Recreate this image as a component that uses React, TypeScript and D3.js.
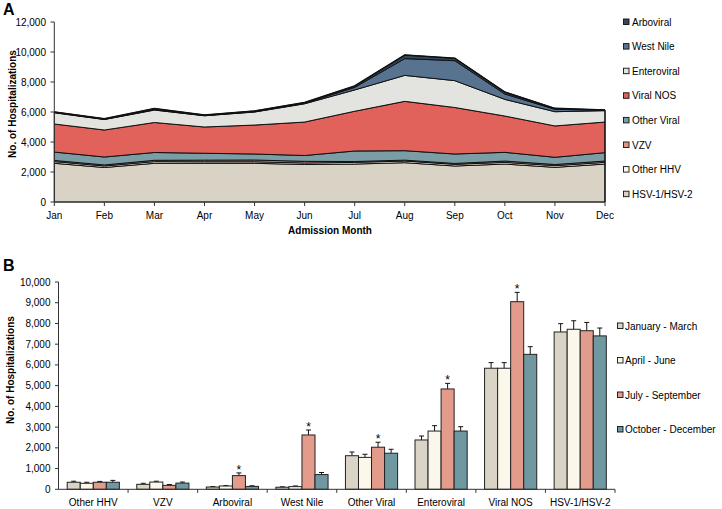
import React from "react";
import * as d3 from "d3";

const months = ["Jan", "Feb", "Mar", "Apr", "May", "Jun", "Jul", "Aug", "Sep", "Oct", "Nov", "Dec"];
const seriesNames = ["HSV-1/HSV-2", "Other HHV", "VZV", "Other Viral", "Viral NOS", "Enteroviral", "West Nile", "Arboviral"];
const seriesColors = ["#d8d3c4", "#fcf9ee", "#e09787", "#7b9ea6", "#e0625b", "#e3e3df", "#587390", "#33485b"];

const hsv = [2580, 2300, 2580, 2580, 2580, 2500, 2530, 2620, 2400, 2530, 2310, 2530];
const otherHHV = [110, 100, 110, 100, 100, 100, 110, 110, 110, 110, 110, 110];
const vzv = [80, 70, 90, 110, 120, 110, 60, 60, 60, 90, 80, 90];
const otherViral = [560, 530, 520, 460, 400, 390, 700, 630, 630, 580, 480, 560];
const viralNOS = [1870, 1800, 2000, 1750, 1930, 2230, 2650, 3290, 3100, 2420, 2090, 2040];
const enteroviral = [750, 700, 830, 750, 870, 1220, 1420, 1730, 1790, 1110, 950, 760];
const westNile = [30, 25, 40, 20, 30, 40, 170, 1120, 1330, 360, 160, 30];
const arboviral = [25, 20, 60, 25, 40, 40, 90, 240, 160, 130, 60, 10];
const topTicks = [0, 2000, 4000, 6000, 8000, 10000, 12000];

const categories = ["Other HHV", "VZV", "Arboviral", "West Nile", "Other Viral", "Enteroviral", "Viral NOS", "HSV-1/HSV-2"];
const quarters = ["January - March", "April - June", "July - September", "October - December"];
const quarterColors = ["#d9d4c5", "#fbf7ea", "#e39b8b", "#6f98a0"];
const q1 = [340, 240, 110, 100, 1620, 2380, 5840, 7590];
const q1Err = [50, 50, 20, 20, 180, 190, 270, 400];
const q2 = [290, 350, 160, 130, 1540, 2810, 5840, 7720];
const q2Err = [50, 40, 20, 30, 150, 260, 270, 410];
const q3 = [340, 190, 660, 2620, 2030, 4840, 9050, 7650];
const q3Err = [40, 40, 130, 240, 240, 270, 450, 400];
const q4 = [340, 300, 140, 710, 1740, 2810, 6510, 7400];
const q4Err = [90, 50, 30, 100, 190, 210, 370, 380];
const significant = [false, false, true, true, true, true, true, false];
const bottomTicks = [0, 1000, 2000, 3000, 4000, 5000, 6000, 7000, 8000, 9000, 10000];

const FONT = "'Liberation Sans', Arial, Helvetica, sans-serif";
const fmt = d3.format(",");

export default function App() {
  // ---------- Panel A ----------
  const seriesData = [hsv, otherHHV, vzv, otherViral, viralNOS, enteroviral, westNile, arboviral];
  const table = months.map((m, i) => {
    const row: any = { month: m };
    seriesNames.forEach((s, k) => (row[s] = seriesData[k][i]));
    return row;
  });
  const stack = d3.stack<any>().keys(seriesNames);
  const layers = stack(table);

  const xA = d3.scalePoint<string>().domain(months).range([54.3, 605]);
  const yA = d3.scaleLinear().domain([0, 12000]).range([202, 22]);
  const area = d3
    .area<any>()
    .x((d: any) => xA(d.data.month) as number)
    .y0((d: any) => yA(d[0]))
    .y1((d: any) => yA(d[1]));
  const topLine = d3
    .line<any>()
    .x((d: any) => xA(d.data.month) as number)
    .y((d: any) => yA(d[1]));

  // ---------- Panel B ----------
  const xB = d3.scaleBand<string>().domain(categories).range([58.5, 615]).paddingInner(0.25).paddingOuter(0.125);
  const xInner = d3.scaleBand<string>().domain(quarters).range([0, xB.bandwidth()]);
  const yB = d3.scaleLinear().domain([0, 10000]).range([489.3, 282]);
  const qVals = [q1, q2, q3, q4];
  const qErrs = [q1Err, q2Err, q3Err, q4Err];
  const step = xB.step();

  return (
    <svg width={722} height={509} style={{ position: "absolute", left: 0, top: 0, background: "#fff" }} fontFamily={FONT}>
      {/* Panel A */}
      <text x={3} y={15} fontSize={16} fontWeight="bold">A</text>
      <text transform={`translate(15.5,${yA(6000) - 8}) rotate(-90)`} textAnchor="middle" fontSize={10} fontWeight="bold">
        No. of Hospitalizations
      </text>
      {layers.map((layer: any, k: number) => (
        <path key={k} d={area(layer) as string} fill={seriesColors[k]} stroke="#111" strokeWidth={1} strokeLinejoin="round" />
      ))}
      <path d={topLine(layers[layers.length - 1] as any) as string} fill="none" stroke="#111" strokeWidth={1.6} />
      <line x1={xA("Dec")} x2={xA("Dec")} y1={yA(0)} y2={yA(layers[layers.length - 1][11][1])} stroke="#111" strokeWidth={1.2} />
      {/* y axis A */}
      <line x1={54.3} x2={54.3} y1={yA(12000)} y2={yA(0)} stroke="#333" strokeWidth={1} />
      {topTicks.map((t) => (
        <g key={t}>
          <line x1={50.5} x2={54.3} y1={yA(t)} y2={yA(t)} stroke="#333" />
          <text x={46} y={yA(t) + 3.5} textAnchor="end" fontSize={10}>{fmt(t)}</text>
        </g>
      ))}
      {/* x axis A */}
      <line x1={54.3} x2={605} y1={yA(0)} y2={yA(0)} stroke="#333" />
      {months.map((m) => (
        <g key={m}>
          <line x1={xA(m)} x2={xA(m)} y1={yA(0)} y2={yA(0) + 4} stroke="#333" />
          <text x={xA(m)} y={219} textAnchor="middle" fontSize={10}>{m}</text>
        </g>
      ))}
      <text x={330} y={234} textAnchor="middle" fontSize={10} fontWeight="bold">Admission Month</text>
      {/* legend A */}
      {seriesNames
        .map((s, k) => ({ s, k }))
        .reverse()
        .map(({ s, k }, i) => (
          <g key={s} transform={`translate(623.5,${22 - 3 + i * 24.6})`}>
            <rect x={0} y={0} width={5.5} height={5.5} fill={seriesColors[k]} stroke="#111" strokeWidth={0.9} />
            <text x={8.5} y={6.5} fontSize={10}>{s}</text>
          </g>
        ))}

      {/* Panel B */}
      <text x={3} y={271} fontSize={16} fontWeight="bold">B</text>
      <text transform={`translate(13.5,${370}) rotate(-90)`} textAnchor="middle" fontSize={10} fontWeight="bold">
        No. of Hospitalizations
      </text>
      {categories.map((c, ci) =>
        quarters.map((q, qi) => {
          const x0 = (xB(c) as number) + (xInner(q) as number);
          const w = xInner.bandwidth();
          const v = qVals[qi][ci];
          const e = qErrs[qi][ci];
          const cx = x0 + w / 2;
          return (
            <g key={c + q}>
              <line x1={cx} x2={cx} y1={yB(v)} y2={yB(v + e)} stroke="#111" strokeWidth={1} />
              <line x1={cx - 2.5} x2={cx + 2.5} y1={yB(v + e)} y2={yB(v + e)} stroke="#111" strokeWidth={1} />
              <rect x={x0} y={yB(v)} width={w} height={yB(0) - yB(v)} fill={quarterColors[qi]} stroke="#222" strokeWidth={1} />
              {qi === 2 && significant[ci] ? (
                <text x={cx} y={yB(v + e) + 1} textAnchor="middle" fontSize={12}>*</text>
              ) : null}
            </g>
          );
        })
      )}
      {/* y axis B */}
      <line x1={58.5} x2={58.5} y1={yB(10000)} y2={yB(0)} stroke="#333" />
      {bottomTicks.map((t) => (
        <g key={t}>
          <line x1={55} x2={58.5} y1={yB(t)} y2={yB(t)} stroke="#333" />
          <text x={50.5} y={yB(t) + 3.5} textAnchor="end" fontSize={10}>{fmt(t)}</text>
        </g>
      ))}
      {/* x axis B */}
      <line x1={58.5} x2={615} y1={yB(0)} y2={yB(0)} stroke="#333" />
      {categories.map((c, ci) => (
        <g key={c}>
          <line x1={58.5 + (ci + 1) * step} x2={58.5 + (ci + 1) * step} y1={yB(0)} y2={yB(0) + 3.5} stroke="#333" />
          <text x={(xB(c) as number) + xB.bandwidth() / 2} y={506} textAnchor="middle" fontSize={10}>{c}</text>
        </g>
      ))}
      {/* legend B */}
      {quarters.map((q, i) => (
        <g key={q} transform={`translate(617.5,${323 + i * 34.5})`}>
          <rect x={0} y={0} width={5.5} height={5.5} fill={quarterColors[i]} stroke="#111" strokeWidth={0.9} />
          <text x={7.5} y={6.5} fontSize={10}>{q}</text>
        </g>
      ))}
    </svg>
  );
}
